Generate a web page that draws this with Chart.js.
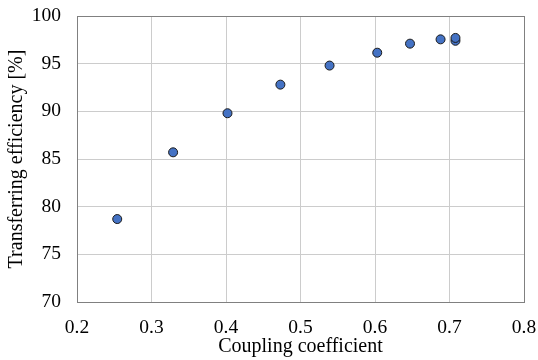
<!DOCTYPE html>
<html>
<head>
<meta charset="utf-8">
<script src="https://cdn.jsdelivr.net/npm/chart.js@4"></script>
<style>
  html, body { margin: 0; padding: 0; background: #fff; }
  #wrap { width: 538px; height: 360px; }
</style>
</head>
<body>
<div id="wrap"><canvas id="chart" width="538" height="360"></canvas></div>
<script>
// coupling coefficient vs. transferring efficiency
const coupling = [0.254, 0.329, 0.402, 0.473, 0.539, 0.603, 0.647, 0.688, 0.708, 0.708];
const efficiency = [78.7, 85.7, 89.8, 92.8, 94.8, 96.15, 97.1, 97.55, 97.4, 97.7];

const xTitle = "Coupling coefficient";
const yTitle = "Transferring efficiency [%]";

const points = coupling.map((x, i) => ({ x: x, y: efficiency[i] }));

// outline of the whole plot area
const frame = {
    id: 'frame',
    afterDatasetsDraw(chart) {
        const a = chart.chartArea;
        const ctx = chart.ctx;
        ctx.save();
        ctx.strokeStyle = '#808080';
        ctx.lineWidth = 1;
        ctx.strokeRect(Math.round(a.left) + 0.5, Math.round(a.top) + 0.5,
            Math.round(a.right - a.left), Math.round(a.bottom - a.top));
        ctx.restore();
    }
};

const family = "'Liberation Serif', 'Times New Roman', serif";
const tickFont = { family: family, size: 19.5 };
const titleFont = { family: family, size: 20 };

new Chart(document.getElementById('chart'), {
    type: 'scatter',
    data: {
        datasets: [{
            data: points,
            backgroundColor: '#4472c4',
            borderColor: '#1a1a1a',
            borderWidth: 1,
            pointRadius: 4.5,
            pointHoverRadius: 4.5
        }]
    },
    options: {
        responsive: false,
        animation: false,
        layout: { padding: { top: 16, right: 14, left: 0, bottom: 0 } },
        plugins: { legend: { display: false }, tooltip: { enabled: false } },
        scales: {
            x: {
                type: 'linear',
                min: 0.2,
                max: 0.8,
                afterFit(scale) {
                    scale.height = 58;
                    scale.paddingLeft = 0;
                    scale.paddingRight = 0;
                },
                ticks: { stepSize: 0.1, color: '#000', font: tickFont, padding: 14,
                    callback: v => v.toFixed(1) },
                grid: { color: '#cccccc', drawTicks: false },
                border: { display: false },
                title: { display: true, text: xTitle, color: '#000', font: titleFont,
                    padding: { top: 0, bottom: 1 } }
            },
            y: {
                min: 70,
                max: 100,
                afterFit(scale) {
                    scale.width = 77;
                    scale.paddingTop = 0;
                    scale.paddingBottom = 0;
                },
                ticks: { stepSize: 5, color: '#000', font: tickFont, padding: 16 },
                grid: { color: '#cccccc', drawTicks: false },
                border: { display: false },
                title: { display: true, text: yTitle, color: '#000', font: titleFont,
                    padding: { top: 5, bottom: 0 } }
            }
        }
    },
    plugins: [frame]
});
</script>
</body>
</html>
